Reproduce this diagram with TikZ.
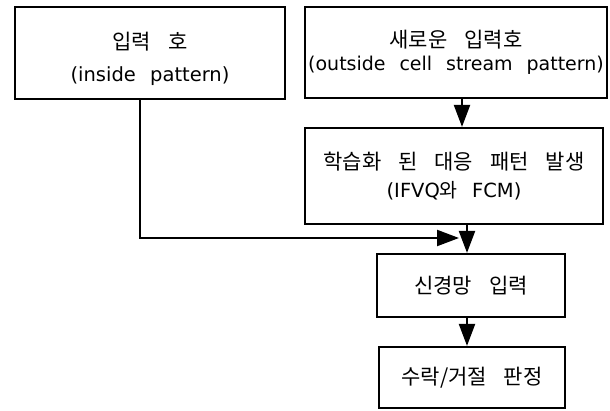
\documentclass[tikz,border=0pt]{standalone}
\usepackage{fontspec}
\setmainfont{DejaVu Sans}[WordSpace=2.3]
\newfontfamily\kr{Noto Sans CJK KR}[WordSpace=3.6]
\usetikzlibrary{arrows.meta}
\begin{document}
\begin{tikzpicture}[x=1pt,y=-1pt,
  box/.style={draw,line width=2.2pt,inner sep=0pt,align=center},
  arr/.style={line width=2.2pt,-{Triangle[length=22pt,width=16pt]}}]
\useasboundingbox (0,0) rectangle (610,410);
\node[box,minimum width=270pt,minimum height=92pt,font=\fontsize{19.5}{32}\selectfont] (b1) at (150,53)
  {{\kr\fontsize{21}{32}\selectfont\rule{0pt}{30pt}입력 호}\\(inside pattern)};
\node[box,minimum width=302pt,minimum height=91pt,font=\fontsize{19}{22.5}\selectfont] (b2) at (456,52.5)
  {{\kr\fontsize{21}{22.5}\selectfont 새로운 입력호}\\(outside cell stream pattern)};
\node[box,minimum width=298pt,minimum height=96pt,font=\fontsize{19.5}{27.5}\selectfont] (b3) at (454,176)
  {{\kr\fontsize{21}{27.5}\selectfont 학습화 된 대응 패턴 발생}\\(IFVQ{\kr 와} FCM)};
\node[box,minimum width=188pt,minimum height=63pt,font=\kr\fontsize{21}{24}\selectfont] (b4) at (471,285.5)
  {신경망 입력};
\node[box,minimum width=186pt,minimum height=61pt,font=\kr\fontsize{21}{24}\selectfont] (b5) at (472,377.5)
  {수락/거절 판정};
\coordinate (j) at (459,238);
\draw[arr] ([xshift=-10pt]b1.south) |- (j);
\draw[arr] ([xshift=6pt]b2.south) -- ([xshift=6pt]b2.south |- b3.north);
\draw[arr] ([xshift=13pt]b3.south) -- ([xshift=13pt]b3.south |- b4.north);
\draw[arr] ([xshift=-4pt]b4.south) -- ([xshift=-4pt]b4.south |- b5.north);
\end{tikzpicture}
\end{document}
